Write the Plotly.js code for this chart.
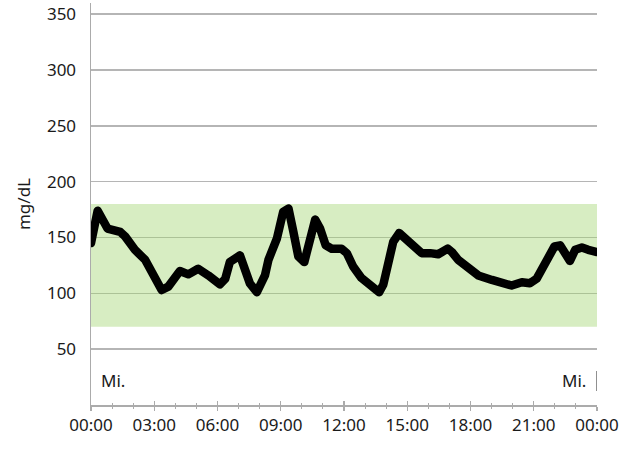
<!DOCTYPE html>
<html>
<head>
<meta charset="utf-8">
<script src="https://cdn.plot.ly/plotly-3.0.1.min.js"></script>
<style>
html,body{margin:0;padding:0;background:#fff;}
#chart{width:629px;height:454px;}
#chart path.js-line{stroke-linejoin:round;stroke-linecap:round;}
</style>
</head>
<body>
<div id="chart"></div>
<script>
// Times of day (HH:MM) and glucose readings (mg/dL)
var times = ["00:00","00:19","00:47","01:23","01:37","02:05","02:34","02:53","03:21","03:40",
             "04:13","04:37","05:05","05:34","06:07","06:22","06:35","07:04","07:32","07:52",
             "08:06","08:15","08:25","08:49","09:07","09:22","09:36","09:50","10:07","10:23",
             "10:38","10:52","11:08","11:25","11:53","12:08","12:26","12:49","13:14","13:40",
             "13:52","14:06","14:20","14:37","14:58","15:22","15:41","16:05","16:28","16:55",
             "17:07","17:25","17:54","18:22","19:01","19:34","19:57","20:26","20:49","21:08",
             "21:27","21:41","21:59","22:15","22:29","22:43","22:58","23:17","23:35","23:54","24:00"];
var glucose = [145,174,158,155,151,139,130,119,103,106,
               120,117,122,116,108,113,128,134,109,101,
               110,116,130,149,173,176,155,133,128,149,
               166,158,143,140,140,136,124,114,108,101,
               108,128,146,154,148,139,136,136,135,140,
               137,130,123,116,112,108,107,110,109,113,
               124,130,142,143,134,129,139,141,139,137,137];
var tickHours = [0,3,6,9,12,15,18,21,24];
var tickLabels = ["00:00","03:00","06:00","09:00","12:00","15:00","18:00","21:00","00:00"];
var targetLow = 70, targetHigh = 180;
var dayLabel = "Mi.";
var yTitle = "mg/dL";

function toHours(t){ var p = t.split(":"); return (+p[0]) + (+p[1])/60; }
var xh = times.map(toHours);

var font = {family: "Noto Sans, Open Sans, sans-serif", size: 17, color: "#1a1a1a"};

var traces = [
  {x: xh, y: glucose, type: "scatter", mode: "lines",
   line: {color: "#000", width: 8.5, shape: "linear"}, hoverinfo: "skip", showlegend: false},
  {x: [0], y: [null], xaxis: "x2", type: "scatter", mode: "lines", hoverinfo: "skip", showlegend: false}
];

var layout = {
  width: 629, height: 454,
  margin: {l: 91, r: 32, t: 3, b: 49, pad: 0},
  paper_bgcolor: "#fff", plot_bgcolor: "#fff",
  font: font,
  showlegend: false,
  xaxis: {
    range: [0, 24], fixedrange: true,
    tickvals: tickHours, ticktext: tickLabels,
    showgrid: false, zeroline: false,
    showline: true, linecolor: "#ababab", linewidth: 1.5,
    ticks: "outside", ticklen: 4, tickwidth: 1.3, tickcolor: "#ababab",
    minor: {dtick: 1, ticks: "outside", ticklen: 2, tickwidth: 1, tickcolor: "#ababab", showgrid: false},
    tickfont: font
  },
  xaxis2: {
    overlaying: "x", anchor: "y", range: [0, 24], fixedrange: true,
    tickvals: tickHours, showticklabels: false,
    showgrid: false, zeroline: false, showline: false,
    ticks: "inside", ticklen: 4, tickwidth: 1.3, tickcolor: "#ababab",
    minor: {dtick: 1, ticks: "inside", ticklen: 2, tickwidth: 1, tickcolor: "#ababab", showgrid: false}
  },
  yaxis: {
    range: [0, 360], fixedrange: true,
    tickvals: [50,100,150,200,250,300,350],
    showgrid: true, gridcolor: "#b5b5b5", gridwidth: 1.5,
    zeroline: false,
    showline: true, linecolor: "#ababab", linewidth: 1.5,
    ticks: "", ticklabelstandoff: 10,
    tickfont: font,
    title: {text: yTitle, font: font, standoff: 12}
  },
  shapes: [
    {type: "rect", xref: "x", yref: "y", x0: 0, x1: 24, y0: targetLow, y1: targetHigh,
     fillcolor: "rgba(160,212,110,0.42)", line: {width: 0}, layer: "between"},
    {type: "line", xref: "x", yref: "y", x0: 24, x1: 24, y0: 12.5, y1: 30.5,
     line: {color: "#555", width: 1.3}}
  ],
  annotations: [
    {xref: "x", yref: "y", x: 0, y: 21.5, text: dayLabel, showarrow: false,
     xanchor: "left", yanchor: "middle", xshift: 8, font: font},
    {xref: "x", yref: "y", x: 24, y: 21.5, text: dayLabel, showarrow: false,
     xanchor: "right", yanchor: "middle", xshift: -9, font: font}
  ]
};

Plotly.newPlot("chart", traces, layout, {staticPlot: true, displayModeBar: false});
</script>
</body>
</html>
